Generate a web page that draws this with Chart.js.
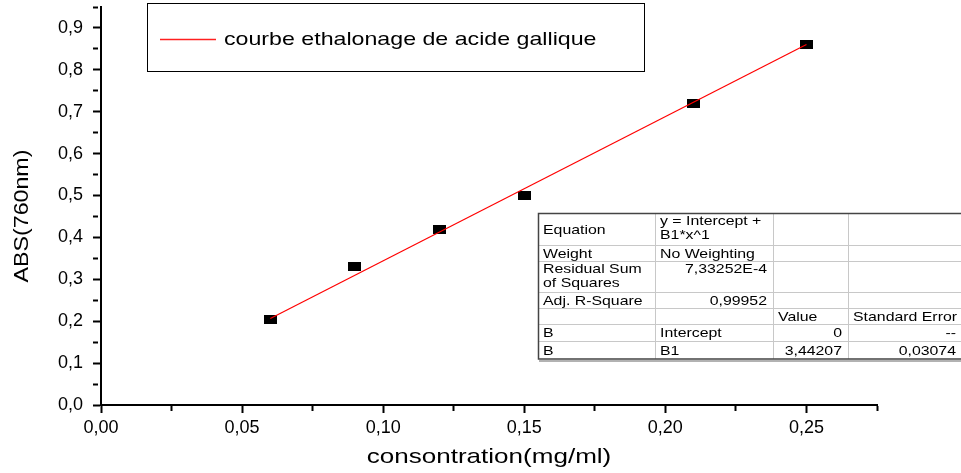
<!DOCTYPE html>
<html>
<head>
<meta charset="utf-8">
<script src="https://cdn.jsdelivr.net/npm/chart.js@4.4.0/dist/chart.umd.min.js"></script>
<style>
  html, body { margin: 0; padding: 0; background: #fff; }
  #wrap { width: 961px; height: 473px; position: relative; }
</style>
</head>
<body>
<div id="wrap"><canvas id="chart"></canvas></div>
<script>
// measured points
const concentration = [0.06, 0.09, 0.12, 0.15, 0.21, 0.25];
const absorbance    = [0.205, 0.33, 0.42, 0.50, 0.72, 0.86];

// linear fit end points (as drawn)
const fitX = [0.06, 0.25];
const fitY = [0.2065, 0.8605];

const seriesLabel = "courbe ethalonage de acide gallique";
const xTitle = "consontration(mg/ml)";
const yTitle = "ABS(760nm)";
const xRange = [0, 0.275];
const yRange = [0, 0.95];

// fit report table
const tableCol1 = ["Equation", "Weight", "Residual Sum\nof Squares", "Adj. R-Square", "", "B", "B"];
const tableCol2 = ["y = Intercept +\nB1*x^1", "No Weighting", "7,33252E-4", "0,99952", "", "Intercept", "B1"];
const tableCol3 = ["", "", "", "", "Value", "0", "3,44207"];
const tableCol4 = ["", "", "", "", "Standard Error", "--", "0,03074"];

const FONT = "'Liberation Sans', Arial, sans-serif";
const STRETCH = 1.22;

function fmtComma(v, d) {
  return v.toFixed(d).replace(".", ",");
}
function isStep(v, step) {
  const r = v / step;
  return Math.abs(r - Math.round(r)) < 1e-6;
}

function stretchedText(ctx, text, x, y, align, sx) {
  ctx.save();
  ctx.translate(x, y);
  ctx.scale(sx, 1);
  ctx.textAlign = align;
  ctx.fillText(text, 0, 0);
  ctx.restore();
}

// black 13x9 marker like the Origin square
const marker = document.createElement("canvas");
marker.width = 13;
marker.height = 9;
const mctx = marker.getContext("2d");
mctx.fillStyle = "#000";
mctx.fillRect(0, 0, 13, 9);

const extras = {
  id: "extras",
  afterDraw(chart) {
    const ctx = chart.ctx;
    const area = chart.chartArea;
    ctx.save();
    ctx.fillStyle = "#000";
    ctx.textBaseline = "middle";

    // axis titles
    ctx.font = "21px " + FONT;
    stretchedText(ctx, xTitle, (area.left + area.right) / 2, 457, "center", 1.24);
    ctx.save();
    ctx.translate(22, 216);
    ctx.rotate(-Math.PI / 2);
    ctx.font = "20px " + FONT;
    stretchedText(ctx, yTitle, 0, 0, "center", 1.16);
    ctx.restore();

    // legend box
    ctx.strokeStyle = "#000";
    ctx.lineWidth = 1;
    ctx.strokeRect(147.5, 3.5, 497, 68);
    ctx.beginPath();
    ctx.strokeStyle = "#ff2020";
    ctx.lineWidth = 1.3;
    ctx.moveTo(160, 39.5);
    ctx.lineTo(216, 39.5);
    ctx.stroke();
    ctx.font = "19px " + FONT;
    stretchedText(ctx, seriesLabel, 224, 40, "left", 1.22);

    // fit table
    const cols = [538, 655, 773, 848, 962];
    const rows = [213, 245, 261, 292, 308, 324, 341, 359];
    ctx.fillStyle = "#fff";
    ctx.fillRect(cols[0], rows[0], cols[4] - cols[0], rows[7] - rows[0]);
    ctx.strokeStyle = "#c8c8c8";
    ctx.lineWidth = 1;
    ctx.beginPath();
    for (let i = 1; i < rows.length - 1; i++) {
      ctx.moveTo(cols[0], rows[i] + 0.5);
      ctx.lineTo(cols[4], rows[i] + 0.5);
    }
    for (let i = 1; i < cols.length - 1; i++) {
      ctx.moveTo(cols[i] + 0.5, rows[0]);
      ctx.lineTo(cols[i] + 0.5, rows[7]);
    }
    ctx.stroke();
    ctx.strokeStyle = "#444";
    ctx.lineWidth = 1.5;
    ctx.beginPath();
    ctx.moveTo(cols[4], rows[0] + 0.5);
    ctx.lineTo(cols[0] + 0.5, rows[0] + 0.5);
    ctx.lineTo(cols[0] + 0.5, rows[7]);
    ctx.lineTo(cols[4], rows[7]);
    ctx.stroke();
    ctx.strokeStyle = "#999";
    ctx.beginPath();
    ctx.moveTo(cols[0] + 1, rows[7] + 2);
    ctx.lineTo(cols[4], rows[7] + 2);
    ctx.stroke();

    ctx.fillStyle = "#000";
    ctx.font = "13px " + FONT;
    const numeric = /^[-\d,E.]+$/;
    const allCols = [tableCol1, tableCol2, tableCol3, tableCol4];
    allCols.forEach((col, c) => {
      col.forEach((txt, r) => {
        if (!txt) return;
        const lines = txt.split("\n");
        const top = rows[r], bot = rows[r + 1];
        const right = numeric.test(txt);
        const x = right ? cols[c + 1] - 6 : cols[c] + 5;
        lines.forEach((ln, k) => {
          let y;
          if (lines.length > 1) y = top + 8 + k * 14;
          else if (bot - top >= 20 && c > 0) y = top + 8;
          else y = (top + bot) / 2 + 1;
          stretchedText(ctx, ln, x, y, right ? "right" : "left", STRETCH);
        });
      });
    });
    ctx.restore();
  }
};

new Chart(document.getElementById("chart"), {
  type: "scatter",
  data: {
    datasets: [
      {
        label: seriesLabel,
        data: fitX.map((x, i) => ({ x: x, y: fitY[i] })),
        showLine: true,
        borderColor: "#ff0000",
        borderWidth: 1.2,
        pointRadius: 0,
        order: 0
      },
      {
        label: "data",
        data: concentration.map((x, i) => ({ x: x, y: absorbance[i] })),
        pointStyle: marker,
        pointRadius: 6,
        order: 1
      }
    ]
  },
  options: {
    responsive: true,
    maintainAspectRatio: false,
    animation: false,
    layout: { padding: { left: 0, top: 3, right: 84, bottom: 0 } },
    plugins: { legend: { display: false }, tooltip: { enabled: false } },
    scales: {
      x: {
        type: "linear",
        min: xRange[0],
        max: xRange[1],
        afterFit: s => { s.height = 68; s.paddingLeft = 0; s.paddingRight = 0; },
        border: { color: "#000", width: 2 },
        grid: {
          drawOnChartArea: false,
          tickLength: 8,
          tickWidth: 2,
          tickColor: "#000",
          tickBorderDash: c => isStep(c.tick.value, 0.05) ? [] : [5, 40]
        },
        ticks: {
          stepSize: 0.025,
          autoSkip: false,
          maxRotation: 0,
          padding: 4,
          color: "#000",
          font: { family: FONT, size: 18 },
          callback: v => isStep(v, 0.05) ? fmtComma(v, 2) : ""
        }
      },
      y: {
        type: "linear",
        min: yRange[0],
        max: yRange[1],
        afterFit: s => { s.width = 101; s.paddingTop = 0; s.paddingBottom = 0; },
        border: { color: "#000", width: 2 },
        grid: {
          drawOnChartArea: false,
          tickLength: 8,
          tickWidth: 2,
          tickColor: "#000",
          tickBorderDash: c => isStep(c.tick.value, 0.1) ? [] : [5, 40]
        },
        ticks: {
          stepSize: 0.05,
          autoSkip: false,
          padding: 10,
          color: "#000",
          font: { family: FONT, size: 18 },
          callback: v => isStep(v, 0.1) ? fmtComma(v, 1) : ""
        }
      }
    }
  },
  plugins: [extras]
});
</script>
</body>
</html>
